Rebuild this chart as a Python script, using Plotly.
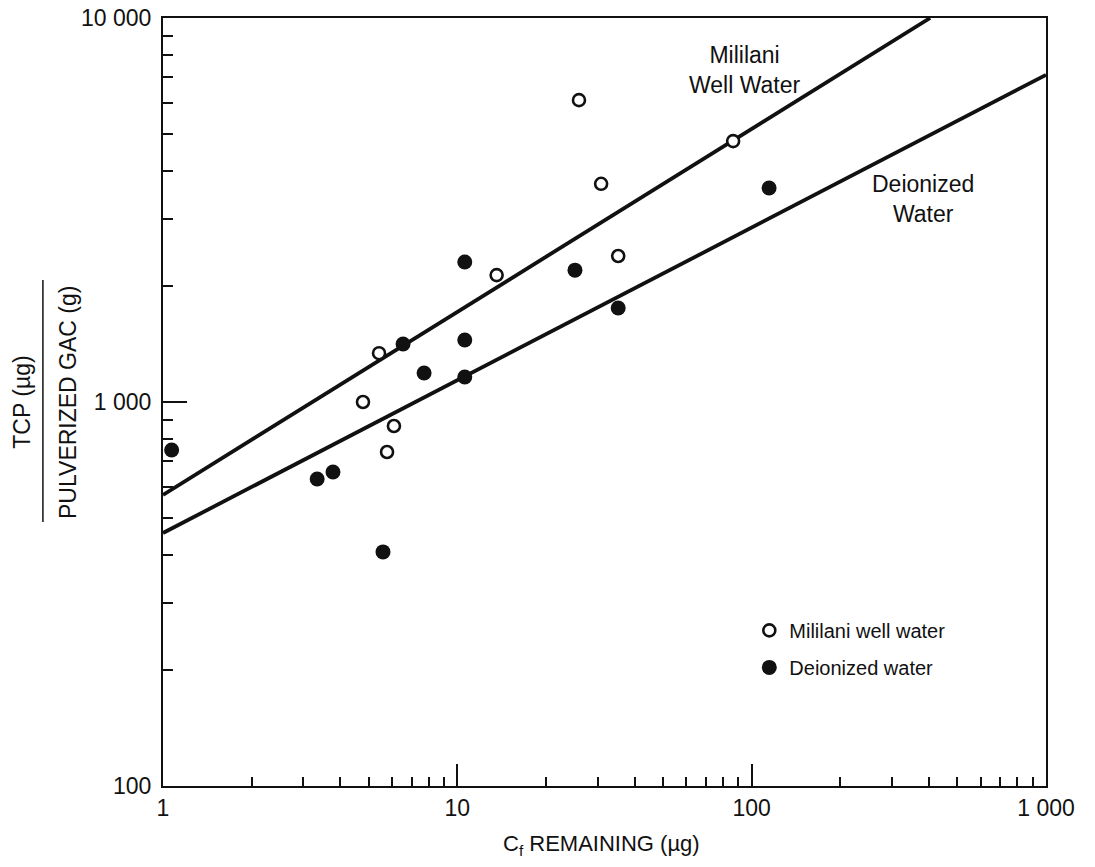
import plotly.graph_objects as go

# Data
mililani_x = [25.9, 30.8, 86.5, 13.6, 35.2, 5.42, 4.78, 6.09, 5.77]
mililani_y = [6110, 3700, 4780, 2140, 2400, 1340, 1000, 866, 741]

deionized_x = [1.07, 10.6, 25.1, 35.2, 114.6, 6.54, 10.6, 7.71, 10.6, 3.34, 3.78, 5.59]
deionized_y = [750, 2315, 2205, 1757, 3608, 1416, 1450, 1190, 1162, 630, 657, 407]

# Fitted lines (endpoints)
mililani_line_x = [1, 404]
mililani_line_y = [573, 10000]
deionized_line_x = [1, 1000]
deionized_line_y = [456, 7110]

x_tickvals = [1, 10, 100, 1000]
x_ticktext = ["1", "10", "100", "1 000"]
y_tickvals = [100, 1000, 10000]
y_ticktext = ["100", "1 000", "10 000"]
minor_vals = [m * d for d in [1, 10, 100, 1000] for m in range(2, 10)]

FONT = "Liberation Sans, Arial, Helvetica, sans-serif"
INK = "#111"

fig = go.Figure()
fig.add_trace(go.Scatter(x=mililani_line_x, y=mililani_line_y, mode="lines",
                         line=dict(color=INK, width=3.8), showlegend=False, hoverinfo="skip"))
fig.add_trace(go.Scatter(x=deionized_line_x, y=deionized_line_y, mode="lines",
                         line=dict(color=INK, width=3.8), showlegend=False, hoverinfo="skip"))
fig.add_trace(go.Scatter(x=mililani_x, y=mililani_y, mode="markers", name="Mililani well water",
                         legendgroup="a",
                         marker=dict(symbol="circle", size=12, color="white",
                                     line=dict(color=INK, width=2.6))))
fig.add_trace(go.Scatter(x=deionized_x, y=deionized_y, mode="markers", name="Deionized water",
                         legendgroup="b",
                         marker=dict(symbol="circle", size=15, color=INK,
                                     line=dict(color=INK, width=0))))

axis_common = dict(type="log", showline=True, linecolor=INK, linewidth=2, mirror=True,
                   ticks="inside", tickcolor=INK, tickwidth=2, showgrid=False, zeroline=False,
                   automargin=False,
                   tickfont=dict(family=FONT, size=23, color=INK))

fig.update_xaxes(range=[0, 3], tickmode="array", tickvals=x_tickvals, ticktext=x_ticktext,
                 ticklen=22,
                 minor=dict(ticks="inside", ticklen=9, tickwidth=1.5, tickcolor=INK,
                            tickmode="array", tickvals=minor_vals, showgrid=False),
                 **axis_common)
fig.update_yaxes(range=[2, 4], tickmode="array", tickvals=y_tickvals, ticktext=y_ticktext,
                 ticklen=24, ticklabelstandoff=5,
                 minor=dict(ticks="inside", ticklen=10, tickwidth=1.5, tickcolor=INK,
                            tickmode="array", tickvals=minor_vals, showgrid=False),
                 **axis_common)

# X-axis title
fig.add_annotation(text="C<sub>f</sub> REMAINING (µg)", xref="paper", yref="paper",
                   x=(601 - 163) / 883, y=-(845 - 786) / 768, showarrow=False,
                   xanchor="center", yanchor="middle",
                   font=dict(family=FONT, size=22, color=INK))

# Y-axis fraction title
fig.add_annotation(text="TCP (µg)", xref="paper", yref="paper", x=-0.160, y=0.5,
                   textangle=-90, showarrow=False, xanchor="center", yanchor="middle",
                   font=dict(family=FONT, size=23, color=INK))
fig.add_annotation(text="PULVERIZED GAC (g)", xref="paper", yref="paper", x=-0.1076, y=0.5,
                   textangle=-90, showarrow=False, xanchor="center", yanchor="middle",
                   font=dict(family=FONT, size=23, color=INK))
fig.add_shape(type="line", xref="paper", yref="paper", x0=-0.136, x1=-0.136,
              y0=(786 - 522) / 768, y1=(786 - 280) / 768, line=dict(color=INK, width=1.5))

# Line labels
fig.add_annotation(text="Mililani<br>Well Water", x=(745 - 163) / 294.3, y=2 + (786 - 70) / 384,
                   xref="x", yref="y",
                   showarrow=False, font=dict(family=FONT, size=23, color=INK), align="center")
fig.add_annotation(text="Deionized<br>Water", x=(923 - 163) / 294.3, y=2 + (786 - 199) / 384,
                   xref="x", yref="y",
                   showarrow=False, font=dict(family=FONT, size=23, color=INK), align="center")

fig.update_layout(
    width=1095, height=867,
    margin=dict(l=163, r=49, t=18, b=81),
    paper_bgcolor="white", plot_bgcolor="white",
    showlegend=True,
    legend=dict(x=0.664, y=0.228, xanchor="left", yanchor="top", bgcolor="rgba(0,0,0,0)",
                font=dict(family=FONT, size=20, color=INK), traceorder="grouped",
                tracegroupgap=8),
)

fig.write_html("out.html")
